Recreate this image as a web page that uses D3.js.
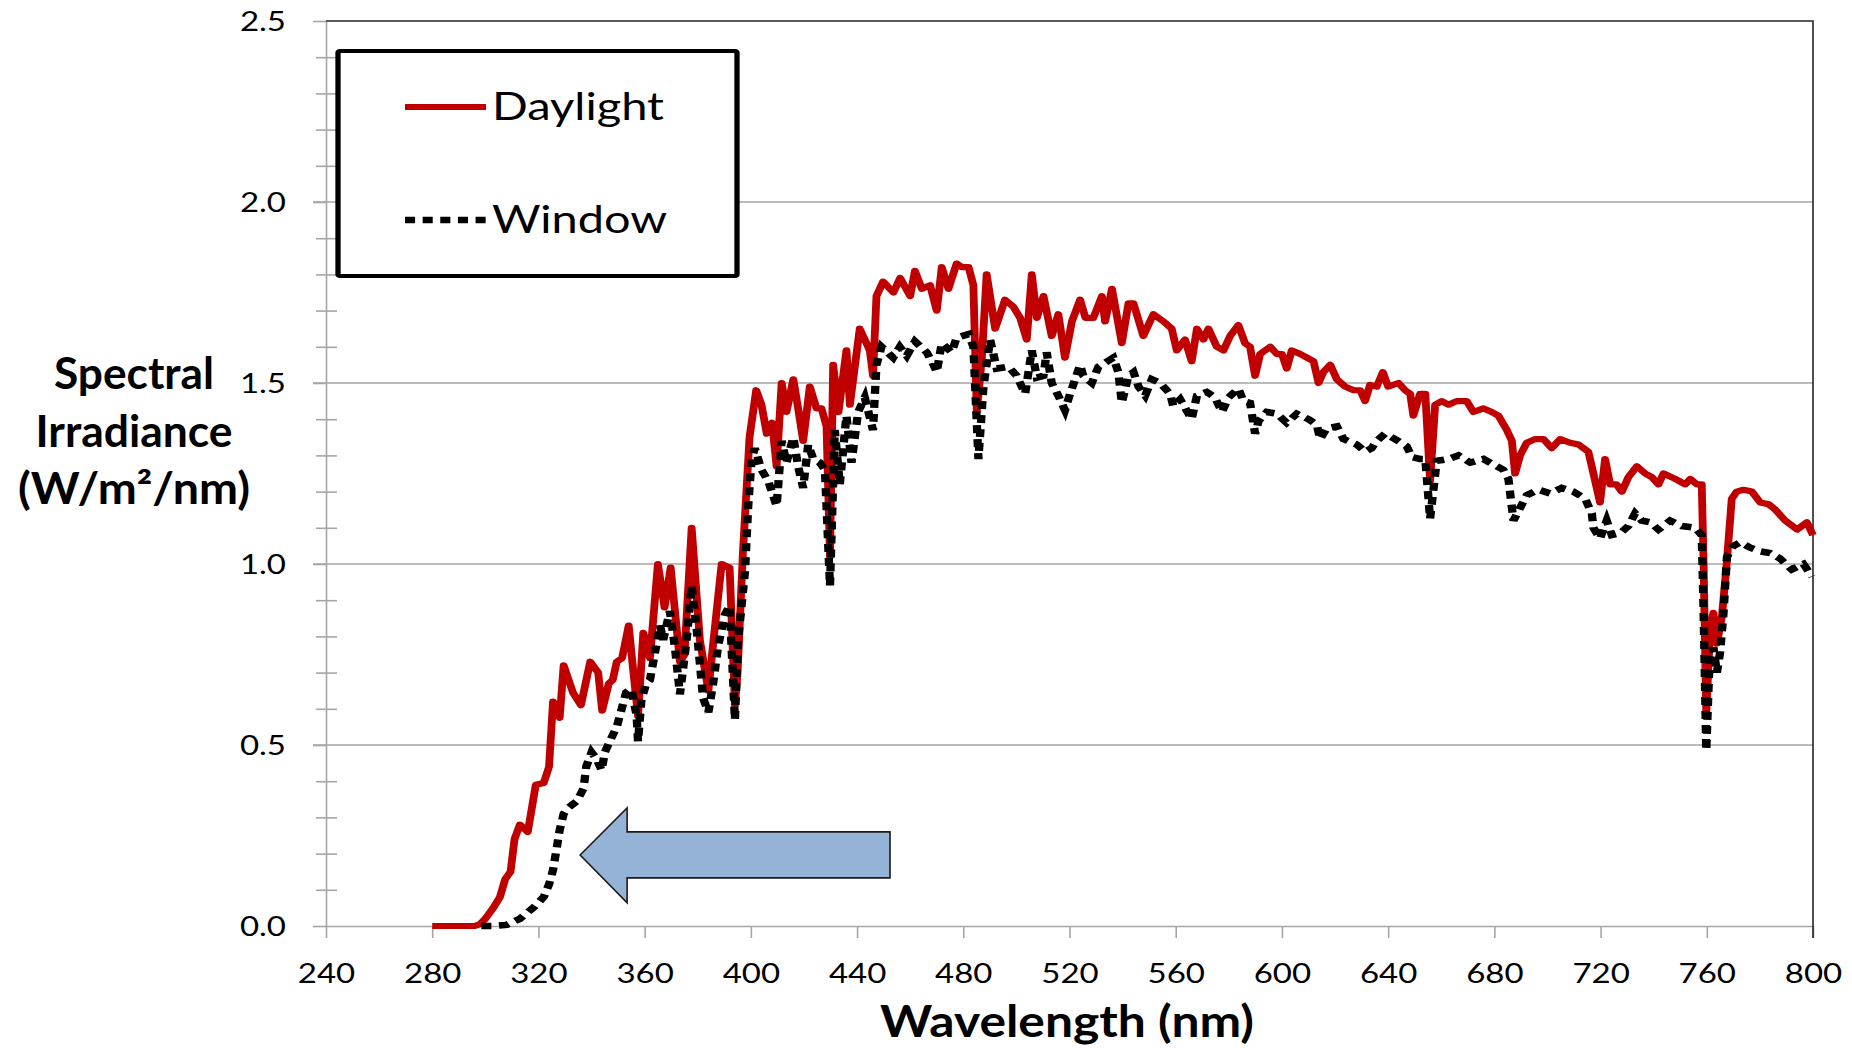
<!DOCTYPE html>
<html>
<head>
<meta charset="utf-8">
<script src="https://cdn.jsdelivr.net/npm/d3@7"></script>
<style>
  body { margin: 0; background: #fff; }
  svg { display: block; }
  text { font-family: Lato, "Open Sans", sans-serif; fill: #000; }
</style>
</head>
<body>
<svg id="chart" width="1852" height="1048"></svg>
<script>
// values: [wavelength nm, irradiance W/m2/nm]
var daylight = [
  [280,0],[290,0],[296,0],[298,0.005],[300,0.02],[303,0.05],[305.5,0.08],[307.5,0.13],[309.5,0.15],
  [311,0.24],[313,0.28],[316,0.26],[319,0.39],[322,0.395],[324,0.44],[325.5,0.62],[328,0.575],
  [329.5,0.72],[333,0.645],[336,0.61],[339.5,0.73],[342.5,0.70],[344,0.595],[346.5,0.67],[348,0.68],
  [349.5,0.73],[351.5,0.74],[354,0.83],[355.5,0.72],[357.5,0.58],[359.5,0.81],[362,0.74],[365,1.0],
  [367.5,0.88],[369.8,0.99],[373.3,0.73],[375,0.75],[377.7,1.10],[380.8,0.79],[384,0.65],[385.8,0.78],
  [389,1.0],[392,0.99],[394,0.61],[395,0.70],[397,1.03],[399.5,1.35],[402,1.48],[404,1.44],[406,1.36],
  [408,1.39],[409.7,1.27],[411.6,1.50],[413.4,1.42],[416,1.51],[417.8,1.43],[419.7,1.34],[422.2,1.49],
  [424.7,1.43],[426.6,1.43],[428.5,1.38],[429.8,1.02],[431,1.55],[433,1.42],[436,1.59],[437.3,1.44],
  [441,1.65],[444.8,1.59],[446,1.52],[447.3,1.74],[449.8,1.78],[453.7,1.75],[456.2,1.79],[460,1.74],
  [461.8,1.81],[464.4,1.76],[467.5,1.77],[470,1.70],[471.9,1.82],[474.4,1.76],[477.5,1.83],[479.4,1.82],
  [482,1.82],[483.8,1.77],[485.1,1.42],[487,1.57],[488.8,1.80],[492,1.65],[495.7,1.73],[498.9,1.71],
  [501.4,1.68],[503.9,1.62],[505.8,1.80],[507.7,1.68],[510.2,1.74],[513.3,1.63],[515.8,1.69],[518.3,1.57],
  [520.9,1.67],[524,1.73],[526,1.68],[529,1.68],[532.2,1.74],[533.4,1.67],[536,1.76],[539.7,1.61],
  [542.2,1.72],[544.1,1.72],[547.8,1.63],[551.6,1.69],[555.4,1.67],[558.5,1.65],[560.4,1.59],[563.5,1.62],
  [566,1.56],[568,1.65],[570.4,1.62],[572.3,1.65],[575.5,1.60],[578,1.59],[580.5,1.63],[583.6,1.66],
  [586.1,1.61],[588,1.60],[589.9,1.52],[591.8,1.58],[595.6,1.60],[598.1,1.58],[600,1.58],[601.8,1.54],
  [603.7,1.59],[606.9,1.58],[609.4,1.57],[611.9,1.56],[613.8,1.50],[615.6,1.53],[618.2,1.55],[620.7,1.51],
  [623.8,1.49],[627,1.48],[629.5,1.48],[631.3,1.45],[633.2,1.495],[635.7,1.49],[638,1.53],[640,1.49],
  [643.9,1.50],[646.4,1.48],[648.3,1.47],[649.5,1.41],[652,1.47],[654,1.47],[655.8,1.23],[657.7,1.44],
  [660.2,1.45],[662.7,1.44],[665.8,1.45],[669.6,1.45],[672.1,1.42],[675.9,1.43],[679,1.42],[681.5,1.41],
  [684.7,1.37],[686.6,1.34],[687.8,1.25],[689.7,1.30],[692.2,1.335],[695.3,1.345],[698.5,1.345],
  [701.6,1.32],[704.8,1.345],[708.5,1.335],[711.7,1.33],[715.4,1.31],[717.3,1.25],[719.8,1.17],
  [721.7,1.29],[723.6,1.22],[726,1.22],[728,1.20],[730.5,1.24],[733.7,1.27],[736.8,1.25],[739.3,1.24],
  [741.8,1.22],[743.7,1.25],[748.1,1.235],[751.9,1.22],[753.8,1.235],[756.3,1.22],[758.1,1.22],
  [758.8,1.0],[759.8,0.585],[761.3,0.825],[762.5,0.865],[763.8,0.78],[765.7,0.855],[767.6,1.01],
  [769.4,1.18],[771.3,1.20],[773.8,1.205],[777,1.20],[780.1,1.17],[783.3,1.165],[785.8,1.15],
  [789.5,1.12],[794,1.095],[797.7,1.115],[800,1.08]
];

var windowGlass = [
  [298.5,0],[303,0],[308,0.003],[313,0.02],[318,0.05],[322,0.08],[324,0.115],[325.5,0.155],[327,0.22],
  [328,0.265],[329.5,0.31],[331,0.325],[334.5,0.345],[337,0.38],[338,0.44],[340,0.48],[342,0.46],
  [343.8,0.43],[345,0.48],[347.5,0.52],[349.5,0.55],[351,0.59],[353,0.645],[355,0.655],[357,0.58],
  [357.5,0.51],[358.8,0.625],[360.6,0.67],[362,0.68],[364,0.76],[365.8,0.83],[367,0.79],[369.5,0.87],
  [371.4,0.77],[373.3,0.64],[375.8,0.79],[377.7,0.94],[379.6,0.82],[382,0.63],[384,0.59],[385.8,0.67],
  [387.7,0.775],[390.2,0.86],[392,0.885],[394,0.57],[395.2,0.79],[397.8,0.98],[399,1.16],[400.3,1.29],
  [401.5,1.32],[404,1.26],[406.5,1.23],[409.7,1.16],[411.6,1.34],[413.4,1.28],[416,1.35],[417.8,1.27],
  [419.7,1.21],[421.6,1.33],[423.5,1.29],[426,1.28],[427.9,1.26],[429.8,0.94],[431.6,1.37],[433.5,1.22],
  [436,1.41],[437.9,1.28],[440.4,1.42],[442.9,1.46],[446,1.37],[447.3,1.55],[449.2,1.60],[453.6,1.57],
  [456.1,1.60],[458.7,1.575],[461.8,1.615],[466.2,1.585],[468.8,1.55],[470,1.53],[471.9,1.61],
  [475.6,1.585],[477.5,1.625],[482,1.635],[483.8,1.60],[485.7,1.29],[487.6,1.49],[490.1,1.62],
  [492.6,1.54],[497,1.545],[500.1,1.52],[503.3,1.47],[505.8,1.59],[507.7,1.515],[510.2,1.52],
  [511.4,1.585],[513.3,1.50],[515.8,1.465],[518.3,1.425],[520.2,1.47],[524,1.55],[525.2,1.52],
  [528.4,1.50],[530.9,1.545],[536.5,1.57],[538.4,1.53],[539.7,1.445],[542.2,1.52],[544.1,1.53],
  [546,1.49],[548.5,1.465],[551,1.51],[554.1,1.50],[557.9,1.47],[559.1,1.435],[561.7,1.455],[566,1.40],
  [568,1.465],[571.7,1.475],[574.8,1.46],[577.4,1.42],[579.9,1.46],[583.6,1.485],[585.5,1.45],
  [588,1.445],[589.9,1.36],[591.2,1.395],[594.3,1.42],[598.1,1.415],[601.8,1.39],[605.6,1.415],
  [610,1.40],[613.1,1.385],[614.4,1.345],[616.9,1.375],[620.7,1.38],[623.2,1.345],[628.2,1.33],
  [631.3,1.31],[633.8,1.32],[635.7,1.34],[638.8,1.36],[642.6,1.345],[647,1.325],[649,1.295],[652,1.29],
  [654,1.29],[655.8,1.125],[658.3,1.285],[662.7,1.29],[666.5,1.30],[670.9,1.28],[675.9,1.29],
  [679.6,1.275],[683.4,1.26],[685.3,1.235],[687.2,1.12],[689.7,1.155],[692.2,1.19],[696.6,1.205],
  [701,1.195],[705.4,1.21],[709.8,1.20],[714.2,1.18],[716.7,1.14],[717.3,1.10],[719.8,1.07],
  [722.3,1.12],[724.2,1.08],[727.4,1.085],[730.5,1.105],[733,1.14],[735.5,1.12],[738.7,1.115],
  [741.8,1.095],[746.2,1.12],[750.6,1.105],[755.6,1.10],[758.1,1.08],[758.8,0.87],[759.8,0.485],
  [761,0.725],[762.5,0.77],[763.8,0.70],[765,0.755],[766.3,0.865],[767.6,1.02],[770,1.05],[772.6,1.06],
  [776.3,1.045],[780.1,1.035],[783.9,1.03],[787.6,1.015],[792,0.985],[796.4,1.00],[799.6,0.965]
];

var xTicks = [240, 280, 320, 360, 400, 440, 480, 520, 560, 600, 640, 680, 720, 760, 800];
var yTicks = [0, 0.5, 1.0, 1.5, 2.0, 2.5];
var seriesNames = ['Daylight', 'Window'];
var yTitle = ['Spectral', 'Irradiance', '(W/m\u00b2/nm)'];
var xTitle = 'Wavelength (nm)';
// arrow annotation, in data units: [nm, value]
var arrowPts = [[335.7,0.196],[353.4,0.326],[353.4,0.260],[452.4,0.260],[452.4,0.133],[353.4,0.133],[353.4,0.064]];

var svg = d3.select('#chart');
var stretch = 1.26;   // the chart in the picture is pulled wide
var tickScale = 1.2;
var grey = '#a6a6a6';

var x = d3.scaleLinear().domain([240, 800]).range([326, 1813]);
var y = d3.scaleLinear().domain([0, 2.5]).range([926, 21]);
var xs = d3.scaleLinear().domain(x.domain()).range(x.range().map(function(v){return v / stretch;}));

// gridlines
svg.append('g')
    .selectAll('line')
    .data(yTicks.filter(function(d){return d > 0 && d < 2.5;}))
    .enter().append('line')
    .attr('x1', 313).attr('x2', 1813)
    .attr('y1', y).attr('y2', y)
    .attr('stroke', grey).attr('stroke-width', 1.6);

// minor ticks crossing the y axis
var minor = d3.range(1, 25).map(function(i){return i / 10;}).filter(function(d){return Math.round(d * 10) % 5 !== 0;});
var yMinorAxis = svg.append('g')
    .attr('transform', 'translate(326,0)')
    .call(d3.axisLeft(y).tickValues(minor).tickSize(10).tickFormat(''));
yMinorAxis.select('.domain').remove();
yMinorAxis.selectAll('.tick line').attr('x1', 11).attr('x2', -10).attr('stroke', grey).attr('stroke-width', 1.6);

var yAxis = svg.append('g')
    .attr('transform', 'translate(326,0)')
    .call(d3.axisLeft(y).tickValues(yTicks).tickSize(13).tickSizeOuter(0).tickFormat(d3.format('.1f')));
yAxis.select('.domain').attr('stroke', grey).attr('stroke-width', 1.6);
yAxis.selectAll('.tick line').attr('stroke', grey).attr('stroke-width', 1.6);
yAxis.selectAll('.tick text')
    .attr('x', -40 / tickScale).attr('dy', '0.36em')
    .attr('transform', 'scale(' + tickScale + ',1)')
    .style('font-size', '27.5px').style('font-family', 'Lato');

var xAxis = svg.append('g')
    .attr('transform', 'translate(0,926)')
    .call(d3.axisBottom(x).tickValues(xTicks).tickSize(12).tickSizeOuter(0));
xAxis.select('.domain').attr('stroke', grey).attr('stroke-width', 1.6);
xAxis.selectAll('.tick line').attr('stroke', grey).attr('stroke-width', 1.6);
xAxis.selectAll('.tick text')
    .attr('y', 57).attr('dy', 0)
    .attr('transform', 'scale(' + tickScale + ',1)')
    .style('font-size', '27.5px').style('font-family', 'Lato');

// plot area border, top and right
svg.append('path')
    .attr('d', 'M' + x(240) + ',' + y(2.5) + 'H' + x(800) + 'V' + (y(0) + 12))
    .attr('fill', 'none').attr('stroke', '#262626').attr('stroke-width', 1.6);

// series, drawn in the stretched frame
var plot = svg.append('g').attr('transform', 'scale(' + stretch + ',1)');
var line = d3.line().x(function(d){return xs(d[0]);}).y(function(d){return y(d[1]);});

plot.append('path')
    .datum(daylight)
    .attr('d', line)
    .attr('fill', 'none').attr('stroke', '#c00000')
    .attr('stroke-width', 6.2).attr('stroke-linejoin', 'round');

plot.append('path')
    .datum(windowGlass)
    .attr('d', line)
    .attr('fill', 'none').attr('stroke', '#000')
    .attr('stroke-width', 6.6).attr('stroke-dasharray', '8,6');

// legend
var legend = plot.append('g');
legend.append('rect')
    .attr('x', 338 / stretch).attr('y', 51)
    .attr('width', 399 / stretch).attr('height', 225)
    .attr('rx', 1.5)
    .attr('fill', '#fff').attr('stroke', '#000').attr('stroke-width', 4.2);

var legendRows = legend.selectAll('g.row')
    .data(seriesNames)
    .enter().append('g')
    .attr('class', 'row')
    .attr('transform', function(d, i){return 'translate(0,' + (i === 0 ? 107 : 220) + ')';});

legendRows.append('line')
    .attr('x1', 405 / stretch).attr('x2', 486 / stretch)
    .attr('stroke', function(d, i){return i === 0 ? '#c00000' : '#000';})
    .attr('stroke-width', function(d, i){return i === 0 ? 6.2 : 6.6;})
    .attr('stroke-dasharray', function(d, i){return i === 0 ? null : '8,6';});

legendRows.append('text')
    .attr('x', 492 / stretch)
    .attr('y', 13)
    .attr('textLength', function(d, i){return (i === 0 ? 172 : 175) / stretch;})
    .attr('lengthAdjust', 'spacingAndGlyphs')
    .style('font-size', '39px')
    .text(function(d){return d;});

// arrow
svg.append('polygon')
    .attr('points', arrowPts.map(function(p){return x(p[0]) + ',' + y(p[1]);}).join(' '))
    .attr('fill', '#95b3d7').attr('stroke', '#1a1a1a').attr('stroke-width', 1.6);

// axis titles
var yTitleWidths = [160, 197, 232];
svg.append('g').selectAll('text')
    .data(yTitle)
    .enter().append('text')
    .attr('x', 134)
    .attr('y', function(d, i){return 389 + i * 57.5;})
    .attr('text-anchor', 'middle')
    .attr('textLength', function(d, i){return yTitleWidths[i];})
    .attr('lengthAdjust', 'spacingAndGlyphs')
    .style('font-size', '43px').style('font-weight', 'bold')
    .text(function(d){return d;});

svg.append('text')
    .attr('x', 1067).attr('y', 1037)
    .attr('text-anchor', 'middle')
    .attr('textLength', 374)
    .attr('lengthAdjust', 'spacingAndGlyphs')
    .style('font-size', '43px').style('font-weight', 'bold')
    .text(xTitle);
</script>
</body>
</html>
